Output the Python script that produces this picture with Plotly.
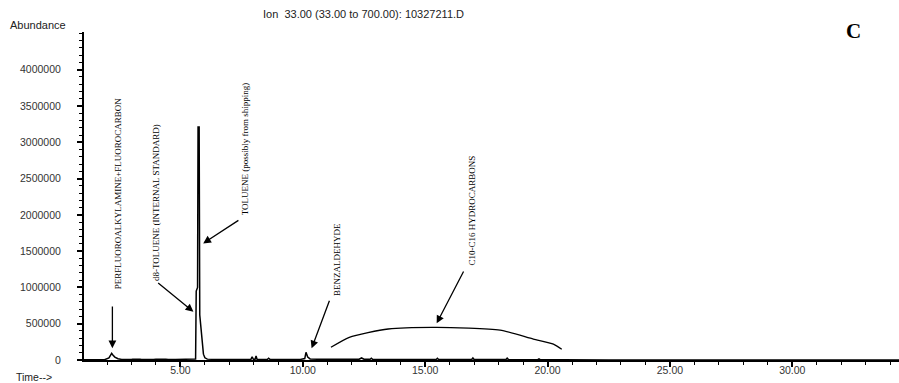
import plotly.graph_objects as go

# ---- data ----
retention_time = [
    1.06, 1.9, 2.08, 2.14, 2.19, 2.24, 2.32, 2.45, 2.6, 3.0,
    3.05, 3.35, 3.4, 3.9, 4.0, 4.4, 4.5, 4.8, 5.2, 5.55,
    5.62, 5.645, 5.67, 5.70, 5.72, 5.765, 5.79, 5.83, 5.88, 5.94,
    6.0, 6.1, 6.5, 7.0, 7.5, 7.88, 7.93, 7.98, 8.05, 8.09,
    8.13, 8.4, 8.55, 8.6, 8.66, 9.2, 9.9, 10.08, 10.13, 10.2,
    10.3, 10.6, 11.0, 11.6, 12.3, 12.4, 12.5, 12.75, 12.8, 12.85,
    13.4, 14.2, 15.0, 15.45, 15.5, 15.55, 16.3, 16.9, 16.95, 17.0,
    17.8, 18.3, 18.35, 18.4, 19.0, 19.6, 19.65, 19.7, 20.6, 21.5,
    22.5, 34.36,
]
abundance = [
    2000, 4000, 30000, 75000, 92000, 70000, 40000, 18000, 8000, 6000,
    12000, 12000, 6000, 6000, 12000, 12000, 6000, 6000, 6000, 8000,
    15000, 950000, 1000000, 1000000, 3210000, 3210000, 620000, 460000, 210000, 80000,
    30000, 12000, 8000, 8000, 6000, 8000, 45000, 10000, 10000, 55000,
    10000, 8000, 8000, 25000, 8000, 6000, 8000, 20000, 106000, 40000,
    15000, 12000, 12000, 10000, 10000, 28000, 10000, 10000, 25000, 10000,
    10000, 8000, 8000, 8000, 25000, 8000, 6000, 6000, 28000, 6000,
    6000, 6000, 25000, 6000, 4000, 4000, 15000, 4000, 3000, 2000,
    1000, 1000,
]

# hand-drawn envelope of the C10-C16 hydrocarbon hump
hump_time = [11.15, 11.90, 13.49, 15.47, 18.06, 19.42, 20.24, 20.58]
hump_abundance = [175000, 313000, 427000, 450000, 413000, 289000, 220000, 147000]

y_tickvals = [0, 500000, 1000000, 1500000, 2000000, 2500000, 3000000, 3500000, 4000000]
y_ticktext = [str(v) for v in y_tickvals]
x_tickvals = [5, 10, 15, 20, 25, 30]
x_ticktext = ["5.00", "10.00", "15.00", "20.00", "25.00", "30.00"]

# labels: (text, text_x, text_bottom_y, arrow_tail_x, arrow_tail_y, arrow_tip_x, arrow_tip_y)
labels = [
    ("PERFLUOROALKYLAMINE+FLUOROCARBON", 2.46, 964000, 2.22, 758000, 2.22, 161000),
    ("d8-TOLUENE (INTERNAL STANDARD)", 4.03, 1078000, 4.03, 1078000, 5.53, 665000),
    ("TOLUENE (possibly from shipping)", 7.64, 1974000, 7.43, 1938000, 5.93, 1607000),
    ("BENZALDEHYDE", 11.39, 872000, 11.11, 836000, 10.36, 161000),
    ("C10-C16 HYDROCARBONS", 16.93, 1295000, 16.60, 1240000, 15.47, 505000),
]

fig = go.Figure()
fig.add_trace(go.Scatter(x=retention_time, y=abundance, mode="lines",
                         line=dict(color="black", width=1.5), showlegend=False,
                         hoverinfo="skip"))
fig.add_trace(go.Scatter(x=hump_time, y=hump_abundance, mode="lines",
                         line=dict(color="black", width=1.3, shape="spline", smoothing=0.6),
                         showlegend=False, hoverinfo="skip"))

annotations = []
serif = "Liberation Serif, Times New Roman, serif"
for text, tx, ty, ax, ay, px, py in labels:
    annotations.append(dict(x=tx, y=ty, xref="x", yref="y", text=text, showarrow=False,
                            textangle=-90, xanchor="center", yanchor="bottom", borderpad=0,
                            font=dict(family=serif, size=9, color="black")))
    annotations.append(dict(x=px, y=py, xref="x", yref="y", ax=ax, ay=ay, axref="x", ayref="y",
                            text="", showarrow=True, arrowhead=2, arrowsize=1.2,
                            arrowwidth=1.3, arrowcolor="black", standoff=0, startstandoff=0))

sans = "Liberation Sans, Arial, sans-serif"
W, H, L, R, T, B = 899, 383, 84, 0, 32, 23
header = [
    dict(x=363, y=383 - 14, text="Ion  33.00 (33.00 to 700.00): 10327211.D",
         font=dict(family=sans, size=11, color="#222")),
    dict(x=38, y=383 - 25, text="Abundance", font=dict(family=sans, size=11, color="#222")),
    dict(x=34, y=383 - 377, text="Time-->", font=dict(family=sans, size=10.5, color="#222")),
    dict(x=853, y=383 - 31, text="<b>C</b>", font=dict(family=serif, size=21, color="black")),
]
# convert the pixel-placed header annotations to paper coordinates
for a in header:
    a.update(xref="paper", yref="paper", showarrow=False, xanchor="center", yanchor="middle",
             x=(a["x"] - L) / (W - L - R), y=(a["y"] - B) / (H - T - B))
annotations += header

fig.update_layout(
    width=W, height=H,
    margin=dict(l=L, r=R, t=T, b=B),
    plot_bgcolor="white", paper_bgcolor="white",
    annotations=annotations,
    xaxis=dict(range=[1.06, 34.36], showgrid=False, zeroline=False,
               showline=True, linecolor="black", linewidth=2,
               ticks="outside", ticklen=5, tickwidth=1.5, tickcolor="black",
               tickvals=x_tickvals, ticktext=x_ticktext, ticklabelstandoff=-6,
               tickfont=dict(family=sans, size=10.5, color="#333"),
               minor=dict(dtick=1, tick0=0, ticks="outside", ticklen=3, tickwidth=1.2, tickcolor="black")),
    yaxis=dict(range=[0, 4520000], showgrid=False, zeroline=False,
               showline=True, linecolor="black", linewidth=2,
               ticks="outside", ticklen=5, tickwidth=1.5, tickcolor="black",
               tickvals=y_tickvals, ticktext=y_ticktext, ticklabelstandoff=14,
               tickfont=dict(family=sans, size=10.5, color="#333"),
               minor=dict(dtick=100000, tick0=0, ticks="outside", ticklen=3, tickwidth=1.2, tickcolor="black")),
)

fig.write_html("out.html", config={"displayModeBar": False},
               post_script="document.body.style.margin='0';document.body.style.overflow='hidden';")
